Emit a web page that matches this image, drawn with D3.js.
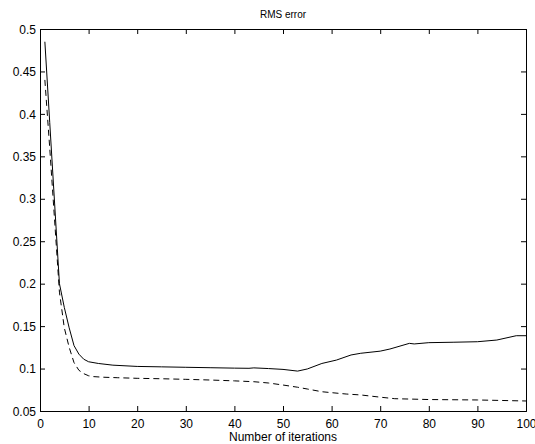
<!DOCTYPE html>
<html>
<head>
<meta charset="utf-8">
<script src="https://cdn.jsdelivr.net/npm/d3@7/dist/d3.min.js"></script>
<style>
  html, body { margin: 0; padding: 0; background: #fff; }
  svg { display: block; }
  text { font-family: "Liberation Sans", Arial, Helvetica, sans-serif; fill: #000; }
</style>
</head>
<body>
<svg id="chart" width="535" height="444"></svg>
<script>
// ---- data ----
const title = "RMS error";
const xLabel = "Number of iterations";
const xTicks = [0, 10, 20, 30, 40, 50, 60, 70, 80, 90, 100];
const yTicks = [0.05, 0.1, 0.15, 0.2, 0.25, 0.3, 0.35, 0.4, 0.45, 0.5];

const solidX = [1, 2, 3, 4, 5, 6, 7, 8, 9, 10, 12, 15, 20, 25, 30, 35, 40, 43, 44, 47, 50, 53, 55, 58, 61, 64, 66, 70, 72, 76, 77, 80, 85, 90, 94, 98, 100];
const solidY = [0.485, 0.39, 0.295, 0.2, 0.172, 0.148, 0.127, 0.117, 0.111, 0.108, 0.106, 0.104, 0.1025, 0.102, 0.1015, 0.101, 0.1005, 0.1003, 0.1008, 0.1, 0.099, 0.097, 0.0995, 0.106, 0.11, 0.116, 0.118, 0.1205, 0.123, 0.1297, 0.129, 0.1305, 0.131, 0.1316, 0.1336, 0.1387, 0.1387];

const dashX = [1, 2, 3, 4, 5, 6, 7, 8, 9, 10, 11, 13, 16, 20, 25, 30, 35, 40, 44, 47, 50, 53, 55, 58, 60, 63, 66, 70, 73, 80, 90, 100];
const dashY = [0.44, 0.36, 0.275, 0.19, 0.148, 0.125, 0.107, 0.098, 0.094, 0.0915, 0.0905, 0.0898, 0.0892, 0.0885, 0.088, 0.0873, 0.0865, 0.0855, 0.0845, 0.083, 0.0806, 0.078, 0.0759, 0.0727, 0.0716, 0.070, 0.0689, 0.0663, 0.0645, 0.0635, 0.063, 0.0618];

// ---- layout ----
const svg = d3.select("#chart");
const mLeft = 40, mRight = 526, mTop = 29, mBottom = 411;
const x = d3.scaleLinear().domain([0, 100]).range([mLeft, mRight]);
const y = d3.scaleLinear().domain([0.05, 0.5]).range([mBottom, mTop]);
const tickLen = 5;
const fontSize = 12;

const fmt = d => String(+d.toFixed(2));

const gx = svg.append("g").attr("transform", `translate(0,${mBottom})`)
  .call(d3.axisBottom(x).tickValues(xTicks).tickSize(-tickLen).tickPadding(8).tickFormat(d3.format("d")));
const gxTop = svg.append("g").attr("transform", `translate(0,${mTop})`)
  .call(d3.axisTop(x).tickValues(xTicks).tickSize(-tickLen).tickFormat(""));
const gy = svg.append("g").attr("transform", `translate(${mLeft},0)`)
  .call(d3.axisLeft(y).tickValues(yTicks).tickSize(-tickLen).tickPadding(4).tickFormat(fmt));
const gyR = svg.append("g").attr("transform", `translate(${mRight},0)`)
  .call(d3.axisRight(y).tickValues(yTicks).tickSize(-tickLen).tickFormat(""));

[gx, gxTop, gy, gyR].forEach(g => {
  g.select(".domain").attr("stroke", "#000").attr("stroke-width", 1);
  g.selectAll(".tick line").attr("stroke", "#000").attr("stroke-width", 1);
  g.selectAll("text").attr("font-size", fontSize)
    .attr("font-family", '"Liberation Sans", Arial, Helvetica, sans-serif').attr("fill", "#000");
});
gy.selectAll("text").attr("dy", "0.35em");

// lines
const line = d3.line().x(d => x(d[0])).y(d => y(d[1]));
const solid = solidX.map((v, i) => [v, solidY[i]]);
const dashed = dashX.map((v, i) => [v, dashY[i]]);

svg.append("path").datum(solid).attr("d", line)
  .attr("fill", "none").attr("stroke", "#000").attr("stroke-width", 1);
svg.append("path").datum(dashed).attr("d", line)
  .attr("fill", "none").attr("stroke", "#000").attr("stroke-width", 1)
  .attr("stroke-dasharray", "6,4");

// labels
svg.append("text").attr("x", (mLeft + mRight) / 2).attr("y", 18)
  .attr("text-anchor", "middle").attr("font-size", 10).text(title);
svg.append("text").attr("x", (mLeft + mRight) / 2).attr("y", 441)
  .attr("text-anchor", "middle").attr("font-size", fontSize).text(xLabel);
</script>
</body>
</html>
